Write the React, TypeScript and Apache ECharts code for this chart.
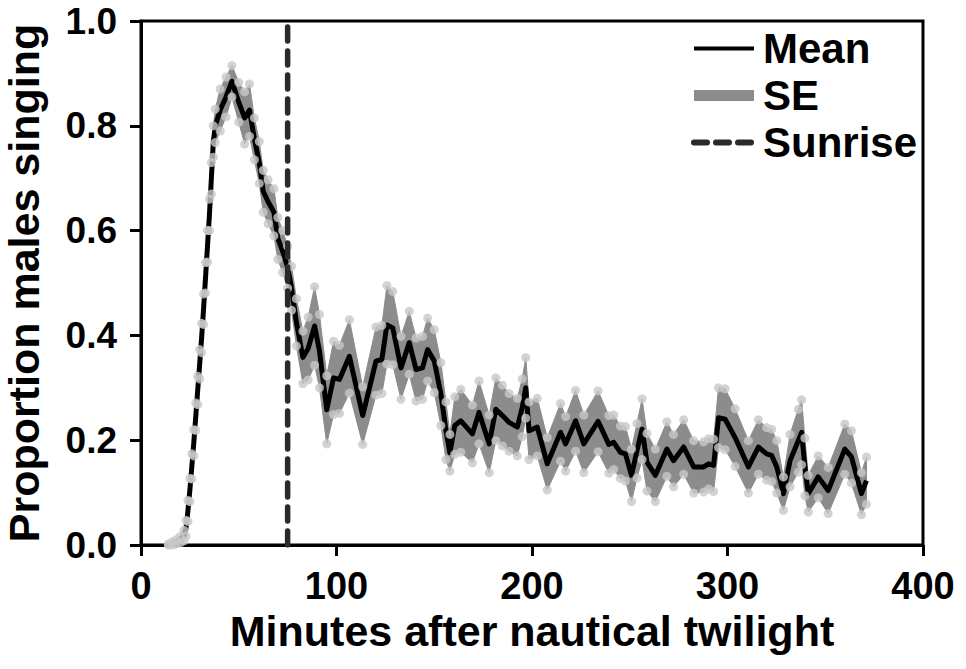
import React, { useEffect, useRef } from "react";
import * as echarts from "echarts";

// Minutes after nautical twilight
const times = [
  14, 16, 18, 20, 22, 23, 24, 25, 26, 27, 28, 29, 30, 31, 32, 33, 34, 35, 36, 37, 38,
  40.5, 43.5, 46.5, 50, 53, 55.5, 58, 60.5, 62.5, 65, 68, 70, 72.5, 75, 77, 79.5,
  82.8, 85.5, 88.8, 91.3, 95, 98.5, 101.5, 106.6, 113.4, 120.2, 123.2, 125.8, 128.8,
  133, 137.2, 140.7, 144, 146.6, 150, 153.4, 156, 158, 160.5, 163.6, 169.5, 172.9,
  178.1, 181.5, 184.9, 188.3, 192.5, 195, 196.8, 198.5, 202.7, 207.8, 214.6, 217.2,
  222.3, 226.5, 233.8, 239.3, 241.8, 245.2, 247.8, 250.9, 253.7, 256.3, 258.8, 263.1,
  269, 272.4, 277.6, 282.7, 287.8, 290.3, 292.9, 295.4, 298.8, 303.9, 310.7, 315.8,
  320, 322.6, 325.2, 328.6, 332, 336.2, 337.9, 339.6, 341.3, 346.4, 351.5, 360, 363.4,
  368.5, 371.1,
];

// Mean proportion of males singing
const means = [
  0.0, 0.003, 0.006, 0.01, 0.018, 0.032, 0.065, 0.105, 0.15, 0.195, 0.245, 0.295, 0.345,
  0.395, 0.45, 0.51, 0.57, 0.63, 0.7, 0.77, 0.8,
  0.83, 0.855, 0.885, 0.845, 0.815, 0.83, 0.775, 0.73, 0.675, 0.655, 0.635, 0.585, 0.56,
  0.53, 0.49, 0.425,
  0.358, 0.375, 0.418, 0.37, 0.258, 0.319, 0.316, 0.36, 0.247, 0.351, 0.354, 0.42, 0.414,
  0.338, 0.386, 0.335, 0.338, 0.373, 0.351, 0.288, 0.218, 0.176, 0.228, 0.237, 0.212, 0.253,
  0.193, 0.259, 0.247, 0.234, 0.225, 0.262, 0.3, 0.218, 0.225, 0.155, 0.215, 0.193,
  0.237, 0.193, 0.236, 0.192, 0.196, 0.177, 0.174, 0.133, 0.18, 0.221, 0.158, 0.133,
  0.183, 0.161, 0.187, 0.149, 0.149, 0.155, 0.152, 0.243, 0.24, 0.205, 0.149, 0.187,
  0.174, 0.171, 0.149, 0.098, 0.161, 0.199, 0.215, 0.149, 0.098, 0.13, 0.104, 0.183, 0.168,
  0.098, 0.123,
];

// Standard error
const ses = [
  0.002, 0.003, 0.004, 0.006, 0.01, 0.015, 0.02, 0.022, 0.024, 0.025, 0.026, 0.027, 0.028,
  0.028, 0.029, 0.029, 0.03, 0.03, 0.03, 0.03, 0.032,
  0.04, 0.038, 0.03, 0.038, 0.05, 0.05, 0.04, 0.04, 0.04, 0.042, 0.045, 0.04, 0.04,
  0.04, 0.042, 0.045,
  0.05, 0.06, 0.075, 0.07, 0.065, 0.07, 0.065, 0.07, 0.055, 0.065, 0.065, 0.075, 0.07,
  0.06, 0.06, 0.06, 0.06, 0.06, 0.06, 0.06, 0.055, 0.035, 0.055, 0.06, 0.055, 0.06,
  0.055, 0.06, 0.058, 0.055, 0.055, 0.055, 0.058, 0.055, 0.055, 0.05, 0.055, 0.052,
  0.058, 0.055, 0.058, 0.055, 0.052, 0.05, 0.052, 0.05, 0.052, 0.058, 0.055, 0.05,
  0.052, 0.05, 0.052, 0.05, 0.048, 0.048, 0.05, 0.057, 0.058, 0.055, 0.05, 0.052,
  0.05, 0.05, 0.05, 0.032, 0.05, 0.06, 0.062, 0.055, 0.035, 0.04, 0.044, 0.048, 0.05,
  0.04, 0.045,
];

const sunrise = 75;
const xTicks = { min: 0, max: 400, interval: 100 };
const yTicks = { min: 0, max: 1, interval: 0.2 };

const FONT = "'Liberation Sans', Arial, Helvetica, sans-serif";

export default function App() {
  const ref = useRef<HTMLDivElement>(null);

  useEffect(() => {
    if (!ref.current) return;
    const chart = echarts.init(ref.current, null, { renderer: "svg" });

    const meanData = times.map((t, i) => [t, means[i]]);
    const upperData = times.map((t, i) => [t, means[i] + ses[i]]);
    const lowerData = times.map((t, i) => [t, Math.max(0, means[i] - ses[i])]);

    chart.setOption({
      animation: false,
      backgroundColor: "#fff",
      grid: {
        left: 141,
        right: 43,
        top: 21,
        bottom: 124,
        containLabel: false,
        outerBoundsMode: "none",
        show: true,
        borderColor: "#000",
        borderWidth: 3,
        backgroundColor: "transparent",
      },
      legend: {
        orient: "vertical",
        left: 686,
        top: 20,
        itemWidth: 60,
        itemHeight: 11,
        itemGap: 0,
        data: [
          {
            name: "Mean",
            itemStyle: { opacity: 0 },
            lineStyle: { width: 4, color: "#000" },
          },
          { name: "SE", icon: "rect", itemStyle: { color: "#8c8c8c" } },
          {
            name: "Sunrise",
            itemStyle: { opacity: 0 },
            lineStyle: { width: 6, color: "#2a2a2a", type: [13, 9], cap: "round" },
          },
        ],
        textStyle: {
          fontFamily: FONT,
          fontWeight: "bold",
          fontSize: 42,
          color: "#000",
          lineHeight: 47,
          padding: [0, 0, 0, 4],
        },
      },
      xAxis: {
        type: "value",
        min: xTicks.min,
        max: xTicks.max,
        interval: xTicks.interval,
        name: "Minutes after nautical twilight",
        nameLocation: "middle",
        nameGap: 49,
        nameTextStyle: { fontFamily: FONT, fontWeight: "bold", fontSize: 43, color: "#000" },
        axisLine: { show: true, lineStyle: { color: "#000", width: 3 } },
        axisTick: { show: true, length: 11, lineStyle: { color: "#000", width: 3 } },
        axisLabel: {
          margin: 22,
          fontFamily: FONT,
          fontWeight: "bold",
          fontSize: 38,
          color: "#000",
        },
        splitLine: { show: false },
      },
      yAxis: {
        type: "value",
        min: yTicks.min,
        max: yTicks.max,
        interval: yTicks.interval,
        name: "Proportion males singing",
        nameLocation: "middle",
        nameGap: 96,
        nameTextStyle: { fontFamily: FONT, fontWeight: "bold", fontSize: 43, color: "#000" },
        axisLine: { show: true, lineStyle: { color: "#000", width: 3 } },
        axisTick: { show: true, length: 11, lineStyle: { color: "#000", width: 3 } },
        axisLabel: {
          margin: 24,
          fontFamily: FONT,
          fontWeight: "bold",
          fontSize: 37,
          lineHeight: 32,
          color: "#000",
          formatter: (v: number) => v.toFixed(1),
        },
        splitLine: { show: false },
      },
      series: [
        {
          name: "SE",
          type: "custom",
          z: 1,
          itemStyle: { color: "#8c8c8c" },
          data: [[times[0], means[0]]],
          encode: { x: 0, y: 1 },
          renderItem: (_params: any, api: any) => {
            const pts: number[][] = [];
            for (let i = 0; i < upperData.length; i++) pts.push(api.coord(upperData[i]));
            for (let i = lowerData.length - 1; i >= 0; i--) pts.push(api.coord(lowerData[i]));
            return {
              type: "polygon",
              shape: { points: pts },
              style: { fill: "#8c8c8c", stroke: "#8c8c8c", lineWidth: 1 },
            };
          },
        },
        {
          name: "Mean",
          type: "line",
          z: 3,
          data: meanData,
          symbol: "none",
          lineStyle: { color: "#000", width: 5, join: "round" },
          itemStyle: { color: "#000" },
        },
        {
          name: "upper",
          type: "scatter",
          z: 4,
          data: upperData,
          symbolSize: 9,
          itemStyle: { color: "#c8c8c8" },
        },
        {
          name: "lower",
          type: "scatter",
          z: 4,
          data: lowerData,
          symbolSize: 9,
          itemStyle: { color: "#c8c8c8" },
        },
        {
          name: "Sunrise",
          type: "line",
          z: 5,
          data: [
            [sunrise, yTicks.min],
            [sunrise, yTicks.max],
          ],
          symbol: "none",
          lineStyle: { color: "#2a2a2a", width: 5.5, type: [14, 10], cap: "round" },
          itemStyle: { color: "#2a2a2a" },
        },
      ],
    });

    return () => chart.dispose();
  }, []);

  return (
    <div
      ref={ref}
      style={{ position: "absolute", left: 0, top: 0, width: 966, height: 669 }}
    />
  );
}
